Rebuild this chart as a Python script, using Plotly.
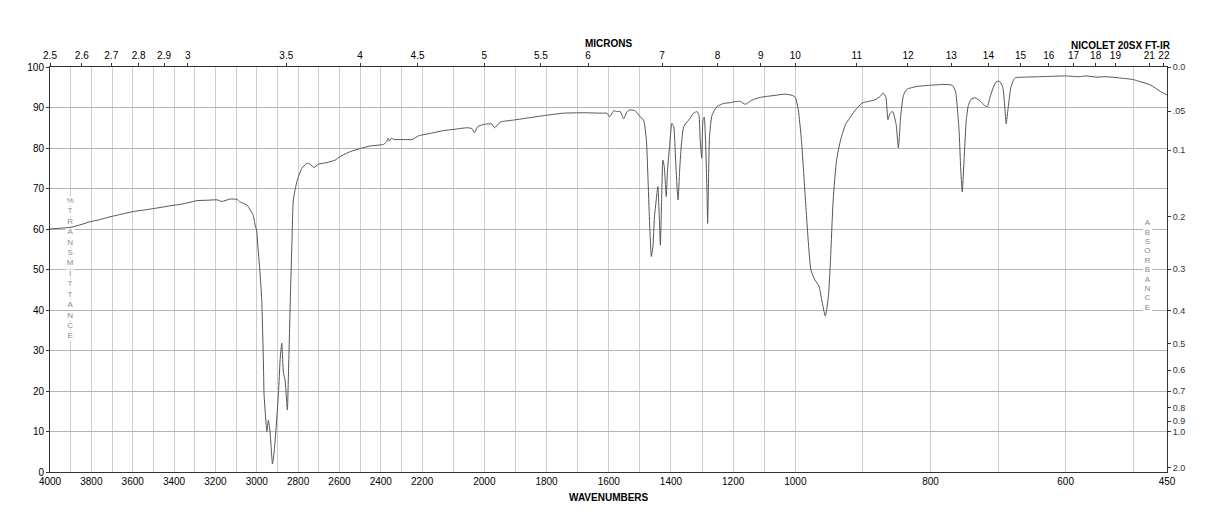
import numpy as np
import plotly.graph_objects as go

# ---------------- data ----------------
wavenumber = [
    4000, 3950, 3903, 3855, 3806, 3760, 3710, 3650, 3598, 3530, 3468, 3410, 3356, 3289, 3240,
    3192, 3168, 3129, 3095, 3081, 3047, 3032, 3018, 3008, 3000, 2997, 2984, 2976, 2968, 2965,
    2955, 2951, 2944, 2935, 2924, 2915, 2906, 2895, 2887, 2879, 2871, 2863, 2852, 2847, 2839,
    2830, 2823, 2806, 2782, 2758, 2742, 2723, 2702, 2661, 2621, 2597, 2548, 2497, 2452, 2387,
    2371, 2365, 2358, 2350, 2335, 2290, 2248, 2218, 2174, 2131, 2098, 2055, 2040, 2032, 2021,
    1997, 1976, 1967, 1949, 1906, 1853, 1799, 1745, 1681, 1620, 1606, 1597, 1584, 1574, 1563,
    1552, 1541, 1531, 1515, 1499, 1488, 1479, 1474, 1469, 1463, 1458, 1453, 1445, 1442, 1437.5,
    1434, 1430, 1426, 1421.5, 1418, 1415, 1411, 1404.5, 1397, 1391, 1386, 1380.5, 1377, 1372, 1367,
    1359, 1343, 1327, 1316, 1310, 1306, 1301, 1297, 1293, 1288.5, 1284, 1282, 1279, 1276, 1268,
    1252, 1231, 1209, 1190, 1177, 1161, 1140, 1113, 1065, 1033, 1010, 1000, 995.6, 991, 986,
    981, 977, 971, 965, 961, 955.6, 951, 948, 944, 939, 933, 926, 911, 901, 882,
    874, 870, 866, 863, 860, 856, 851, 847.5, 844, 840, 835, 820, 800, 780, 768,
    763, 758, 755, 753, 750, 747, 744, 740, 734, 726, 720, 716, 712, 707, 703,
    698, 693, 690, 688, 685, 681, 675, 660, 640, 620, 600, 580, 570, 555, 540,
    520, 500, 490, 475, 460, 450,
]
transmittance = [
    60.0, 60.2, 60.4, 61.0, 61.8, 62.3, 63.0, 63.7, 64.3, 64.8, 65.3, 65.8, 66.2, 67.0, 67.1,
    67.2, 66.8, 67.4, 67.3, 66.7, 65.9, 64.7, 63.5, 61.0, 59.5, 57.3, 49.0, 42.5, 27.7, 19.5,
    12.0, 10.0, 12.8, 9.6, 2.0, 5.4, 11.2, 19.4, 27.7, 31.8, 24.4, 22.7, 15.3, 23.5, 40.0,
    56.5, 67.2, 71.7, 75.0, 76.2, 76.0, 75.2, 76.0, 76.4, 77.0, 77.9, 79.1, 79.9, 80.5, 80.9,
    81.6, 82.4, 81.7, 82.4, 82.1, 82.1, 82.1, 83.0, 83.6, 84.3, 84.6, 85.0, 84.8, 83.8, 85.3,
    85.9, 85.9, 85.0, 86.4, 86.9, 87.5, 88.1, 88.6, 88.7, 88.6, 88.6, 87.7, 89.2, 89.0, 89.0,
    87.2, 89.0, 89.4, 89.2, 87.7, 86.9, 82.0, 72.9, 62.2, 53.2, 55.6, 63.0, 68.8, 70.5, 63.0,
    56.0, 67.2, 77.0, 75.4, 71.3, 68.0, 74.6, 80.3, 86.1, 85.3, 78.7, 70.4, 67.2, 74.6, 80.3,
    85.3, 86.9, 88.6, 89.0, 88.1, 82.0, 77.5, 86.9, 87.6, 81.2, 68.8, 61.4, 72.9, 82.8, 88.1,
    90.2, 91.0, 91.2, 91.5, 91.5, 90.8, 91.8, 92.5, 93.0, 93.3, 93.0, 92.5, 89.4, 82.0, 69.6,
    57.3, 49.9, 47.4, 45.9, 42.5, 38.5, 43.5, 52.3, 67.2, 77.0, 82.0, 85.7, 89.4, 91.1, 91.9,
    92.8, 93.6, 92.5, 87.0, 88.5, 89.0, 86.0, 80.0, 88.0, 93.0, 94.5, 95.2, 95.5, 95.7, 95.5,
    94.0, 85.0, 74.0, 69.2, 78.0, 87.0, 90.5, 92.0, 92.4, 91.5, 90.5, 90.2, 92.5, 95.0, 96.3,
    96.5, 95.0, 90.0, 86.0, 90.0, 95.0, 97.3, 97.5, 97.6, 97.7, 97.8, 97.6, 97.8, 97.5, 97.6,
    97.3, 96.9, 96.4, 95.6, 94.0, 93.1,
]

wavenumber_ticks = [4000, 3800, 3600, 3400, 3200, 3000, 2800, 2600, 2400, 2200,
                    2000, 1800, 1600, 1400, 1200, 1000, 800, 600, 450]
micron_ticks = [2.5, 2.6, 2.7, 2.8, 2.9, 3, 3.5, 4, 4.5, 5, 5.5, 6, 7, 8, 9, 10,
                11, 12, 13, 14, 15, 16, 17, 18, 19, 21, 22]
micron_labels = ["2.5", "2.6", "2.7", "2.8", "2.9", "3", "3.5", "4", "4.5", "5", "5.5", "6",
                 "7", "8", "9", "10", "11", "12", "13", "14", "15", "16", "17", "18", "19",
                 "21", "22"]
absorbance_ticks = [0.0, 0.05, 0.1, 0.2, 0.3, 0.4, 0.5, 0.6, 0.7, 0.8, 0.9, 1.0, 2.0]
absorbance_labels = ["0.0", ".05", "0.1", "0.2", "0.3", "0.4", "0.5", "0.6", "0.7",
                     "0.8", "0.9", "1.0", "2.0"]

# ---------------- piecewise-linear wavenumber scale ----------------
SCALE_WN = [450, 1000, 2200, 4000]
SCALE_U = [1116.5, 745.0, 372.0, 0.0]


def u(wn):
    return np.interp(np.asarray(wn, dtype=float), SCALE_WN, SCALE_U)


FONT = "Liberation Sans, Arial, Helvetica, sans-serif"

grid_wn = list(range(4000, 449, -100)) + [450]
grid_text = [str(w) if w in wavenumber_ticks else "" for w in grid_wn]

fig = go.Figure()


# vertical axis captions drawn as letter columns (beneath the spectrum)
def letter_column(text, wn_pos, t_center, spacing, size):
    letters = list(text)
    n = len(letters)
    ys = [t_center + (n - 1) / 2 * spacing - i * spacing for i in range(n)]
    return go.Scatter(
        x=u([wn_pos] * n), y=ys, mode="markers+text", text=letters,
        textposition="middle center",
        textfont=dict(family=FONT, size=size, color="#8a8a8a"),
        marker=dict(symbol="square", size=size + 1, color="white"),
        hoverinfo="skip", showlegend=False,
    )


fig.add_trace(letter_column("%TRANSMITTANCE", 3903, 50.2, 2.57, 8))
fig.add_trace(letter_column("ABSORBANCE", 479, 51.0, 2.32, 8))

fig.add_trace(go.Scatter(
    x=u(wavenumber), y=transmittance, mode="lines",
    line=dict(color="#555555", width=1, shape="spline", smoothing=0.5),
    hoverinfo="skip", showlegend=False,
))
# companion trace so the top / right axes exist
fig.add_trace(go.Scatter(
    x=u(wavenumber), y=transmittance, xaxis="x2", yaxis="y2", mode="lines",
    line=dict(color="rgba(0,0,0,0)", width=0), hoverinfo="skip", showlegend=False,
))

axis_line = "#333333"

fig.update_layout(
    width=1218, height=528,
    margin=dict(l=50, r=51, t=67, b=56),
    paper_bgcolor="white", plot_bgcolor="white",
    font=dict(family=FONT, size=10, color="black"),
    xaxis=dict(
        range=[0, 1116.5], tickmode="array", tickvals=u(grid_wn), ticktext=grid_text,
        showgrid=True, gridcolor="#cdcdcd", gridwidth=1, ticks="",
        showline=True, linecolor=axis_line, linewidth=1, zeroline=False,
        tickfont=dict(size=10, color="black"),
    ),
    xaxis2=dict(
        overlaying="x", side="top", range=[0, 1116.5], tickmode="array",
        tickvals=u([10000.0 / m for m in micron_ticks]), ticktext=micron_labels,
        ticks="outside", ticklen=3, tickcolor=axis_line, showgrid=False,
        showline=True, linecolor=axis_line, linewidth=1, zeroline=False,
        tickfont=dict(size=10, color="black"),
    ),
    yaxis=dict(
        range=[0, 100], tickmode="array", tickvals=list(range(0, 101, 10)),
        showgrid=True, gridcolor="#b4b4b4", gridwidth=1, ticks="outside", ticklen=3,
        tickcolor=axis_line, showline=True, linecolor=axis_line, linewidth=1,
        zeroline=False, tickfont=dict(size=10, color="black"),
    ),
    yaxis2=dict(
        overlaying="y", side="right", range=[0, 100], tickmode="array",
        tickvals=[100 * 10 ** (-a) for a in absorbance_ticks], ticktext=absorbance_labels,
        ticks="outside", ticklen=3, tickcolor=axis_line, showgrid=False,
        showline=True, linecolor=axis_line, linewidth=1, zeroline=False,
        tickfont=dict(size=9, color="#333333"),
    ),
    annotations=[
        dict(text="<b>MICRONS</b>", x=0.5004, y=1.057, xref="paper", yref="paper",
             showarrow=False, font=dict(size=10, color="black"), xanchor="center", yanchor="middle"),
        dict(text="<b>WAVENUMBERS</b>", x=0.5004, y=-0.062, xref="paper", yref="paper",
             showarrow=False, font=dict(size=10, color="black"), xanchor="center", yanchor="middle"),
        dict(text="<b>NICOLET 20SX FT-IR</b>", x=0.959, y=1.054, xref="paper", yref="paper",
             showarrow=False, font=dict(size=10, color="black"), xanchor="center", yanchor="middle"),
    ],
)

fig.write_html("out.html")
